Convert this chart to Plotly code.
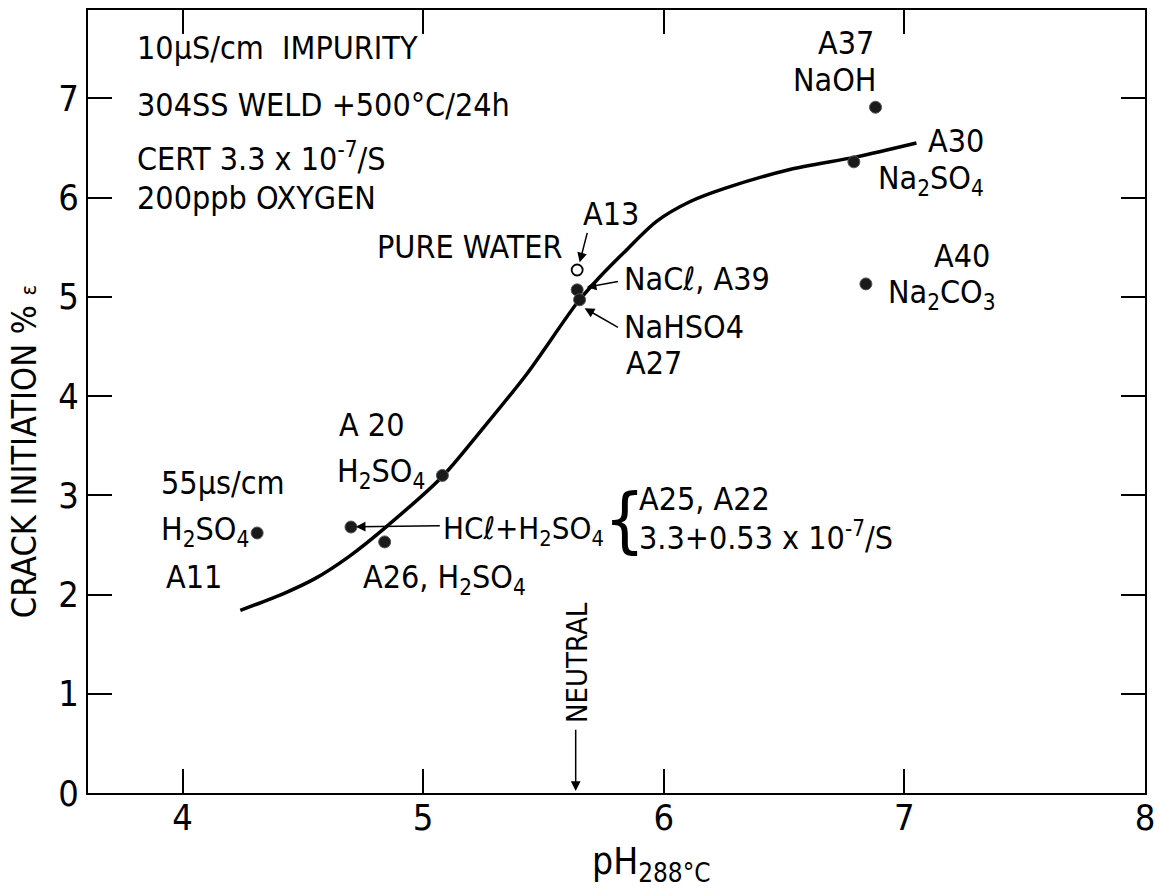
import plotly.graph_objects as go

# ---- data ----
curve_ph = [4.24, 4.42, 4.55, 4.69, 4.85, 5.08, 5.24, 5.43, 5.64, 5.73, 5.84, 5.97, 6.11, 6.25, 6.52, 6.80, 7.05]
curve_crack = [1.84, 2.01, 2.16, 2.38, 2.69, 3.19, 3.65, 4.22, 4.94, 5.19, 5.46, 5.76, 5.96, 6.09, 6.28, 6.41, 6.55]

test_ids = ["A11", "A25/A22", "A26", "A20", "A39", "A27", "A30", "A37", "A40"]
test_ph = [4.31, 4.70, 4.84, 5.08, 5.64, 5.65, 6.79, 6.88, 6.84]
test_crack = [2.62, 2.68, 2.53, 3.20, 5.07, 4.97, 6.36, 6.91, 5.13]

pure_ids = ["A13"]
pure_ph = [5.64]
pure_crack = [5.27]

x_ticks = [4, 5, 6, 7, 8]
y_ticks = [0, 1, 2, 3, 4, 5, 6, 7]

FONT = "Liberation Sans Narrow, DejaVu Sans Condensed, Arial Narrow, sans-serif"

W, H = 1163, 895
L, R, T, B = 88, 1150, 8, 793
X0, X1 = 3.607, 8.0
Y0, Y1 = 0.0, 7.89


def d(xp, yp):
    """pixel -> data coordinates"""
    x = X0 + (xp - L) / (R - L) * (X1 - X0)
    y = Y0 + (B - yp) / (B - T) * (Y1 - Y0)
    return x, y


def p(xp, yp):
    """pixel -> paper coordinates"""
    return (xp - L) / (R - L), (B - yp) / (B - T)


fig = go.Figure()
fig.add_trace(go.Scatter(x=curve_ph, y=curve_crack, mode="lines",
                         line=dict(color="black", width=3.5, shape="spline", smoothing=0.8),
                         hoverinfo="skip", showlegend=False))
fig.add_trace(go.Scatter(x=test_ph, y=test_crack, mode="markers", text=test_ids,
                         marker=dict(size=12, color="#1a1a1a", line=dict(color="#555", width=1)),
                         showlegend=False))
fig.add_trace(go.Scatter(x=pure_ph, y=pure_crack, mode="markers", text=pure_ids,
                         marker=dict(size=11, color="white", line=dict(color="black", width=1.8)),
                         showlegend=False))

anns = []


def txt(s, xp, yp, size=32, anchor="left", angle=0):
    x, y = p(xp, yp)
    anns.append(dict(x=x, y=y, xref="paper", yref="paper", text=s, showarrow=False,
                     xanchor=anchor, yanchor="middle", textangle=angle,
                     font=dict(family=FONT, size=size, color="black")))


def arrow(x_from, y_from, x_to, y_to):
    xt, yt = d(x_to, y_to)
    xf, yf = d(x_from, y_from)
    anns.append(dict(x=xt, y=yt, ax=xf, ay=yf, xref="x", yref="y", axref="x", ayref="y",
                     text="", showarrow=True, arrowhead=2, arrowsize=1.3, arrowwidth=1.5,
                     arrowcolor="black", standoff=0, startstandoff=0))


txt("10\u03bcS/cm  IMPURITY", 135, 46)
txt("304SS WELD +500\u00b0C/24h", 135, 103)
txt("CERT 3.3 x 10<sup>-7</sup>/S", 135, 155)
txt("200ppb OXYGEN", 135, 196)

txt("A37", 880, 41, anchor="right")
txt("NaOH", 882, 78, anchor="right")
txt("A30", 930, 139)
txt("Na<sub>2</sub>SO<sub>4</sub>", 880, 178)
txt("A40", 936, 255)
txt("Na<sub>2</sub>CO<sub>3</sub>", 890, 293)

txt("A13", 583, 213)
txt("PURE WATER", 376, 246)
arrow(590, 230, 582, 261)
txt("NaC\u2113, A39", 625, 278)
arrow(622, 280, 589, 286)
txt("NaHSO4", 625, 326)
arrow(622, 327, 587, 307)
txt("A27", 627, 362)

txt("A 20", 338, 424)
txt("H<sub>2</sub>SO<sub>4</sub>", 336, 472)
txt("55\u03bcs/cm", 159, 482)
txt("H<sub>2</sub>SO<sub>4</sub>", 159, 530)
txt("A11", 164, 576)
txt("HC\u2113+H<sub>2</sub>SO<sub>4</sub>", 443, 530, size=31)
arrow(443, 525, 357, 526)
txt("A26, H<sub>2</sub>SO<sub>4</sub>", 362, 578)

txt("{", 627, 518, size=72, anchor="center")
txt("A25, A22", 640, 498)
txt("3.3+0.53 x 10<sup>-7</sup>/S", 640, 535)

txt("NEUTRAL", 580, 662, size=29, anchor="center", angle=-90)
arrow(578, 728, 578, 791)

# axis titles
txt("pH<sub>288\u00b0C</sub>", 654, 864, size=37, anchor="center")
txt("CRACK INITIATION % <span style='font-size:22px'>\u03b5</span>", 24, 451, size=34,
    anchor="center", angle=-90)

axis_common = dict(showgrid=False, zeroline=False, showline=True, linecolor="black",
                   linewidth=2, mirror="ticks", ticks="inside", ticklen=24, tickwidth=2,
                   tickcolor="black", tickfont=dict(family=FONT, size=36, color="black"))

fig.update_layout(
    width=W, height=H,
    margin=dict(l=L, r=W - R, t=T, b=H - B, pad=0),
    paper_bgcolor="white", plot_bgcolor="white",
    xaxis=dict(range=[X0, X1], tickvals=x_ticks, ticklabelstandoff=-8, **axis_common),
    yaxis=dict(range=[Y0, Y1], tickvals=y_ticks, **axis_common),
    annotations=anns,
    showlegend=False,
)

fig.write_html("out.html")
